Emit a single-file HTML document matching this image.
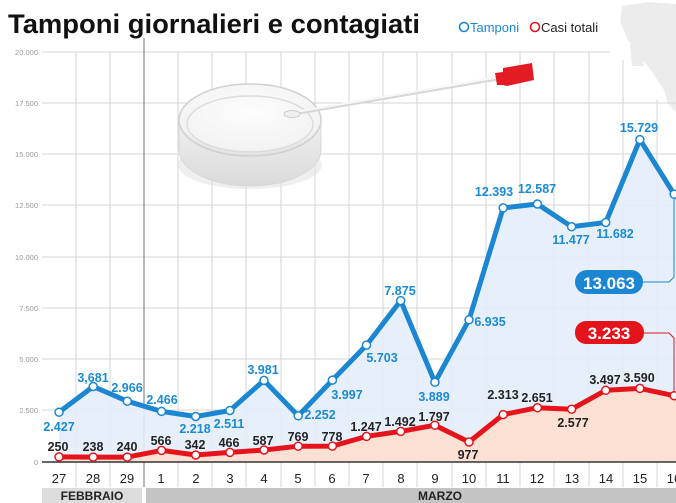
<!DOCTYPE html>
<html><head><meta charset="utf-8"><style>
html,body{margin:0;padding:0;background:#fff;}
svg{display:block;font-family:"Liberation Sans","DejaVu Sans",sans-serif;}
.t{font-size:12.5px;fill:#1a8ad4;font-weight:bold;text-anchor:middle}
.r{font-size:12.5px;fill:#222;font-weight:bold;text-anchor:middle}
.d{font-size:13px;fill:#222;text-anchor:middle}
.ax{font-size:7.5px;fill:#999;text-anchor:end}
</style></head><body>
<svg width="676" height="503" viewBox="0 0 676 503" xmlns="http://www.w3.org/2000/svg">
<defs>
<radialGradient id="dish" cx="0.5" cy="0.4" r="0.6"><stop offset="0" stop-color="#fdfdfd"/><stop offset="0.85" stop-color="#f3f3f3"/><stop offset="1" stop-color="#dcdcdc"/></radialGradient>
<linearGradient id="body" x1="0" y1="0" x2="0" y2="1"><stop offset="0" stop-color="#f0f0f0"/><stop offset="1" stop-color="#dadada"/></linearGradient>
</defs>
<rect width="676" height="503" fill="#fff"/>
<!-- map -->
<path d="M622 6 L648 2 L676 4 L676 112 L668 104 L664 90 L652 72 L640 56 L628 40 L620 22 Z" fill="#ececec"/>
<path d="M630 44 L642 48 L644 66 L632 66 Z" fill="#ececec"/>
<!-- horizontal grid -->
<g stroke="#d6d6d6" stroke-width="1">
<line x1="42" y1="52" x2="610" y2="52"/>
<line x1="42" y1="103" x2="676" y2="103"/>
<line x1="42" y1="154" x2="676" y2="154"/>
<line x1="42" y1="205" x2="676" y2="205"/>
<line x1="42" y1="257" x2="676" y2="257"/>
<line x1="42" y1="308" x2="676" y2="308"/>
<line x1="42" y1="359" x2="676" y2="359"/>
<line x1="42" y1="410" x2="676" y2="410"/>
</g>
<g stroke="#d6d6d6" stroke-width="1">
<line x1="76" y1="52" x2="76" y2="487"/><line x1="110" y1="52" x2="110" y2="487"/>
<line x1="178" y1="52" x2="178" y2="487"/><line x1="212" y1="52" x2="212" y2="487"/><line x1="246" y1="52" x2="246" y2="487"/>
<line x1="281" y1="52" x2="281" y2="487"/><line x1="315" y1="52" x2="315" y2="487"/><line x1="349" y1="52" x2="349" y2="487"/>
<line x1="383" y1="52" x2="383" y2="487"/><line x1="417" y1="52" x2="417" y2="487"/><line x1="452" y1="52" x2="452" y2="487"/>
<line x1="486" y1="52" x2="486" y2="487"/><line x1="520" y1="52" x2="520" y2="487"/><line x1="554" y1="52" x2="554" y2="487"/>
<line x1="589" y1="52" x2="589" y2="487"/><line x1="623" y1="60" x2="623" y2="487"/><line x1="657" y1="100" x2="657" y2="487"/>
</g>
<line x1="144" y1="38" x2="144" y2="487" stroke="#888" stroke-width="1.2"/>
<!-- axis labels -->
<g class="ax">
<text x="38" y="55">20.000</text><text x="38" y="106">17.500</text><text x="38" y="157">15.000</text>
<text x="38" y="208">12.500</text><text x="38" y="260">10.000</text><text x="38" y="311">7.500</text>
<text x="38" y="362">5.000</text><text x="38" y="413">2.500</text><text x="38" y="465">0</text>
</g>
<!-- fills -->
<polygon fill="#e4eefa" opacity="0.9" points="59,462 59,412.2 93.2,386.5 127.3,401.2 161.5,411.4 195.7,416.5 229.9,410.5 264,380.4 298.2,415.8 332.4,380.1 366.5,345.1 400.7,300.6 434.9,382.3 469,319.8 503.2,207.9 537.4,204 571.6,226.7 605.7,222.5 639.9,139.6 674.1,194.2 676,194 676,462"/>
<polygon fill="#fde0d4" points="59,462 59,456.9 93.2,457.1 127.3,457.1 161.5,450.4 195.7,455 229.9,452.4 264,450 298.2,446.2 332.4,446.1 366.5,436.4 400.7,431.4 434.9,425.2 469,442 503.2,414.6 537.4,407.7 571.6,409.2 605.7,390.3 639.9,388.4 674.1,395.7 676,396 676,462"/>
<!-- petri dish -->
<ellipse cx="250" cy="165" rx="72" ry="24" fill="#e0e0e0" opacity="0.5"/>
<path d="M179 120 L179 150 A71 36 0 0 0 321 150 L321 120 Z" fill="url(#body)" stroke="#d8d8d8"/>
<ellipse cx="250" cy="120" rx="71" ry="36" fill="url(#dish)" stroke="#d0d0d0" stroke-width="1.5"/>
<ellipse cx="250" cy="124" rx="63" ry="28" fill="none" stroke="#dcdcdc" stroke-width="1.5"/>
<!-- swab -->
<line x1="290" y1="114" x2="500" y2="78" stroke="#d6d6d6" stroke-width="4" stroke-linecap="round"/>
<line x1="290" y1="113" x2="500" y2="77" stroke="#f8f8f8" stroke-width="2"/>
<ellipse cx="292" cy="114" rx="8" ry="3.5" fill="#f0f0f0" stroke="#ccc"/>
<polygon points="495,73 503,72 503,68 532,63 534,80 507,86 503,85 497,85" fill="#e31c24"/>
<!-- axis -->
<line x1="42" y1="462" x2="676" y2="462" stroke="#333" stroke-width="1.5"/>
<!-- lines -->
<polyline fill="none" stroke="#1b86d2" stroke-width="5" stroke-linejoin="round" points="59,412.2 93.2,386.5 127.3,401.2 161.5,411.4 195.7,416.5 229.9,410.5 264,380.4 298.2,415.8 332.4,380.1 366.5,345.1 400.7,300.6 434.9,382.3 469,319.8 503.2,207.9 537.4,204 571.6,226.7 605.7,222.5 639.9,139.6 674.1,194.2"/>
<polyline fill="none" stroke="#e5141c" stroke-width="5" stroke-linejoin="round" points="59,456.9 93.2,457.1 127.3,457.1 161.5,450.4 195.7,455 229.9,452.4 264,450 298.2,446.2 332.4,446.1 366.5,436.4 400.7,431.4 434.9,425.2 469,442 503.2,414.6 537.4,407.7 571.6,409.2 605.7,390.3 639.9,388.4 674.1,395.7"/>
<g fill="#fff" stroke="#1b86d2" stroke-width="1.5">
<circle cx="59" cy="412.2" r="4"/><circle cx="93.2" cy="386.5" r="4"/><circle cx="127.3" cy="401.2" r="4"/><circle cx="161.5" cy="411.4" r="4"/><circle cx="195.7" cy="416.5" r="4"/><circle cx="229.9" cy="410.5" r="4"/><circle cx="264" cy="380.4" r="4"/><circle cx="298.2" cy="415.8" r="4"/><circle cx="332.4" cy="380.1" r="4"/><circle cx="366.5" cy="345.1" r="4"/><circle cx="400.7" cy="300.6" r="4"/><circle cx="434.9" cy="382.3" r="4"/><circle cx="469" cy="319.8" r="4"/><circle cx="503.2" cy="207.9" r="4"/><circle cx="537.4" cy="204" r="4"/><circle cx="571.6" cy="226.7" r="4"/><circle cx="605.7" cy="222.5" r="4"/><circle cx="639.9" cy="139.6" r="4"/><circle cx="674.1" cy="194.2" r="4"/>
</g>
<g fill="#fff" stroke="#e5141c" stroke-width="1.5">
<circle cx="59" cy="456.9" r="4"/><circle cx="93.2" cy="457.1" r="4"/><circle cx="127.3" cy="457.1" r="4"/><circle cx="161.5" cy="450.4" r="4"/><circle cx="195.7" cy="455" r="4"/><circle cx="229.9" cy="452.4" r="4"/><circle cx="264" cy="450" r="4"/><circle cx="298.2" cy="446.2" r="4"/><circle cx="332.4" cy="446.1" r="4"/><circle cx="366.5" cy="436.4" r="4"/><circle cx="400.7" cy="431.4" r="4"/><circle cx="434.9" cy="425.2" r="4"/><circle cx="469" cy="442" r="4"/><circle cx="503.2" cy="414.6" r="4"/><circle cx="537.4" cy="407.7" r="4"/><circle cx="571.6" cy="409.2" r="4"/><circle cx="605.7" cy="390.3" r="4"/><circle cx="639.9" cy="388.4" r="4"/><circle cx="674.1" cy="395.7" r="4"/>
</g>
<!-- blue labels -->
<g class="t">
<text x="59" y="431">2.427</text><text x="93" y="382">3,681</text><text x="127" y="392">2.966</text>
<text x="162" y="404">2.466</text><text x="195" y="433">2.218</text><text x="229" y="428">2.511</text>
<text x="263" y="374">3.981</text><text x="320" y="419">2.252</text><text x="347" y="399">3.997</text>
<text x="382" y="362">5.703</text><text x="400" y="295">7.875</text><text x="434" y="401">3.889</text>
<text x="490" y="326">6.935</text><text x="494" y="196">12.393</text><text x="537" y="193">12.587</text>
<text x="571" y="244">11.477</text><text x="615" y="238">11.682</text><text x="639" y="132">15.729</text>
</g>
<g class="r">
<text x="58" y="451">250</text><text x="93" y="451">238</text><text x="127" y="451">240</text>
<text x="161" y="445">566</text><text x="195" y="449">342</text><text x="229" y="447">466</text>
<text x="263" y="445">587</text><text x="298" y="441">769</text><text x="332" y="441">778</text>
<text x="366" y="431">1.247</text><text x="400" y="426">1.492</text><text x="434" y="421">1.797</text>
<text x="468" y="459">977</text><text x="503" y="399">2.313</text><text x="537" y="402">2.651</text>
<text x="573" y="427">2.577</text><text x="605" y="384">3.497</text><text x="639" y="382">3.590</text>
</g>
<!-- callouts -->
<polyline points="640,282 669,282 674,277 674,198" fill="none" stroke="#1b86d2" stroke-width="1"/>
<rect x="575" y="270" width="68" height="24" rx="12" fill="#1b86d2"/>
<text x="609" y="289" font-size="17" font-weight="bold" fill="#fff" text-anchor="middle">13.063</text>
<polyline points="640,333 669,333 674,338 674,392" fill="none" stroke="#e5141c" stroke-width="1"/>
<rect x="575" y="321" width="69" height="23" rx="11" fill="#e5141c"/>
<text x="609" y="339" font-size="17" font-weight="bold" fill="#fff" text-anchor="middle">3.233</text>
<!-- day labels -->
<g class="d">
<text x="59" y="483">27</text><text x="93" y="483">28</text><text x="127" y="483">29</text><text x="161" y="483">1</text><text x="196" y="483">2</text><text x="230" y="483">3</text><text x="264" y="483">4</text><text x="298" y="483">5</text><text x="332" y="483">6</text><text x="366" y="483">7</text><text x="401" y="483">8</text><text x="435" y="483">9</text><text x="469" y="483">10</text><text x="503" y="483">11</text><text x="537" y="483">12</text><text x="572" y="483">13</text><text x="606" y="483">14</text><text x="640" y="483">15</text><text x="674" y="483">16</text>
</g>
<rect x="42" y="488" width="100" height="15" fill="#dcdcdc"/>
<rect x="146" y="488" width="530" height="15" fill="#c4c4c4"/>
<text x="92" y="500" font-size="12" font-weight="bold" fill="#222" text-anchor="middle">FEBBRAIO</text>
<text x="440" y="500" font-size="12" font-weight="bold" fill="#222" text-anchor="middle">MARZO</text>
<!-- title -->
<text x="8" y="33" font-size="27" font-weight="bold" fill="#111" textLength="412" lengthAdjust="spacingAndGlyphs">Tamponi giornalieri e contagiati</text>
<circle cx="464" cy="27" r="4.5" fill="none" stroke="#1b86d2" stroke-width="1.6"/>
<text x="470" y="32" font-size="13" fill="#1b86d2">Tamponi</text>
<circle cx="535" cy="27" r="4.5" fill="none" stroke="#e5141c" stroke-width="1.6"/>
<text x="541" y="32" font-size="13" fill="#222">Casi totali</text>
</svg>
</body></html>
